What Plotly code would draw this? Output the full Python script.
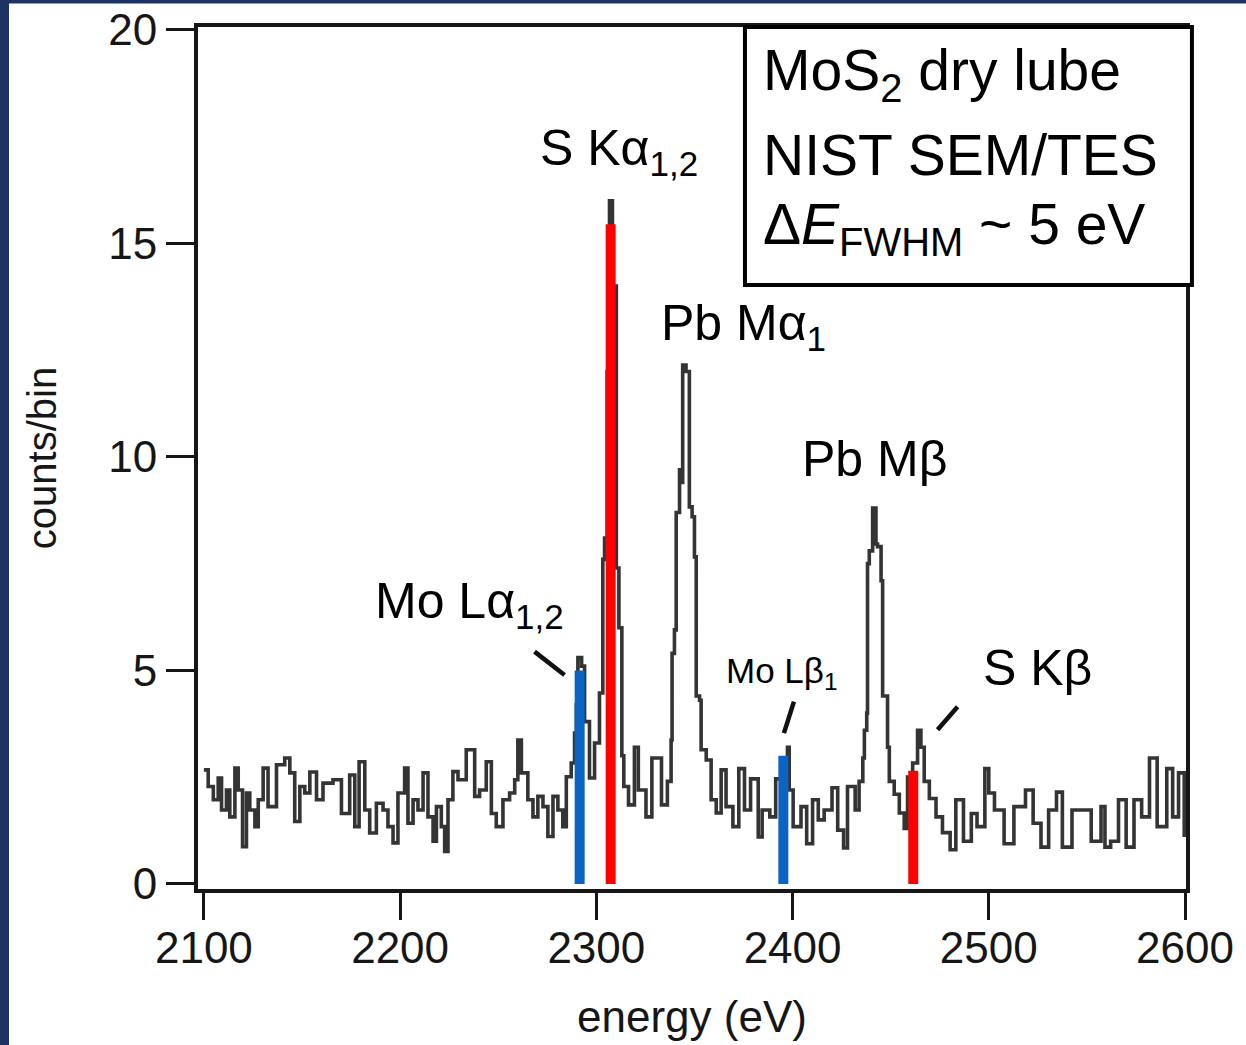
import plotly.graph_objects as go

# ---------------- data ----------------
energy_eV = [
    2100.0, 2102.2, 2104.8, 2107.3, 2109.0, 2111.5, 2113.2, 2115.8, 2117.5, 2119.7,
    2121.7, 2123.4, 2126.0, 2127.7, 2130.2, 2132.7, 2137.0, 2141.2, 2143.8, 2146.3,
    2148.9, 2151.4, 2154.0, 2157.4, 2160.7, 2165.8, 2170.1, 2174.3, 2176.9, 2179.1,
    2182.0, 2184.5, 2187.9, 2191.3, 2193.8, 2196.4, 2198.9, 2202.3, 2204.0, 2206.6,
    2209.1, 2211.7, 2214.2, 2216.8, 2218.5, 2221.0, 2222.7, 2224.4, 2226.9, 2229.5,
    2233.7, 2236.3, 2238.0, 2240.5, 2243.9, 2246.5, 2249.0, 2252.4, 2255.8, 2258.4,
    2260.0, 2261.8, 2265.1, 2267.7, 2270.2, 2272.8, 2275.3, 2277.9, 2280.4, 2282.9,
    2284.7, 2287.2, 2288.9, 2289.8, 2290.6, 2292.5, 2294.0, 2296.5, 2299.1, 2301.6,
    2303.3, 2304.2, 2305.5, 2306.7, 2308.2, 2310.2, 2311.5, 2313.0, 2314.0, 2316.4,
    2319.4, 2321.4, 2325.3, 2328.3, 2333.2, 2336.2, 2338.1, 2338.6, 2339.8, 2340.7,
    2342.4, 2343.2, 2344.0, 2345.7, 2347.4, 2348.8, 2350.0, 2350.9, 2352.6, 2353.4,
    2356.0, 2358.5, 2361.1, 2363.6, 2366.1, 2369.6, 2372.6, 2375.5, 2378.6, 2382.5,
    2384.5, 2388.4, 2391.4, 2394.5, 2397.4, 2398.3, 2400.3, 2404.3, 2407.2, 2410.2,
    2413.1, 2416.1, 2420.1, 2423.0, 2426.0, 2428.0, 2431.9, 2433.9, 2435.8, 2436.6,
    2437.8, 2438.2, 2439.1, 2440.8, 2442.5, 2443.3, 2445.1, 2445.9, 2448.4, 2449.3,
    2451.8, 2454.4, 2456.9, 2458.6, 2461.2, 2463.7, 2465.4, 2467.1, 2469.7, 2473.1,
    2476.4, 2480.3, 2483.2, 2487.1, 2491.1, 2494.0, 2498.0, 2500.0, 2502.9, 2507.8,
    2512.8, 2518.7, 2522.6, 2526.6, 2530.5, 2534.5, 2537.5, 2542.4, 2548.3, 2552.2,
    2557.2, 2559.2, 2562.1, 2566.1, 2570.0, 2574.0, 2577.9, 2581.9, 2585.8, 2590.7,
    2593.7, 2596.7, 2599.6,
]
counts_per_bin = [
    2.67, 2.28, 1.97, 2.48, 1.73, 2.20, 1.57, 2.71, 2.20, 0.87,
    2.13, 1.73, 1.34, 1.97, 2.71, 1.81, 2.79, 2.95, 2.60, 1.46,
    2.28, 2.13, 2.62, 1.97, 2.36, 2.44, 1.65, 2.55, 1.34, 2.86,
    1.73, 1.19, 1.89, 1.73, 1.34, 0.96, 2.13, 2.71, 1.42, 1.97,
    1.73, 2.60, 1.57, 1.00, 1.81, 1.34, 0.76, 1.97, 2.63, 2.44,
    3.14, 3.14, 2.05, 2.20, 2.86, 1.65, 1.34, 1.97, 2.13, 2.44,
    3.37, 2.60, 1.97, 1.57, 2.05, 1.81, 1.11, 2.05, 1.73, 1.34,
    2.51, 2.83, 3.53, 4.20, 5.30, 5.10, 3.80, 2.48, 3.30, 4.47,
    7.60, 8.10, 12.0, 16.0, 14.0, 7.40, 6.00, 3.00, 2.28, 1.85,
    3.20, 2.20, 1.57, 2.95, 1.85, 2.40, 3.37, 5.40, 5.95, 8.70,
    9.70, 9.40, 12.15, 12.0, 8.83, 8.60, 7.66, 4.40, 4.30, 3.14,
    2.90, 1.97, 1.66, 2.67, 1.81, 1.34, 2.70, 1.73, 2.46, 1.10,
    1.73, 1.57, 2.46, 2.80, 3.20, 2.20, 1.34, 1.81, 0.94, 1.97,
    1.50, 1.73, 2.25, 1.26, 0.84, 2.28, 1.73, 2.40, 2.95, 3.60,
    4.00, 7.50, 7.80, 8.80, 7.96, 7.90, 7.10, 4.40, 3.20, 2.40,
    2.10, 1.66, 1.30, 2.50, 2.83, 3.60, 3.20, 2.40, 2.00, 1.57,
    1.20, 0.80, 1.97, 1.00, 1.65, 1.34, 2.70, 2.13, 1.73, 0.94,
    1.81, 2.20, 1.42, 0.86, 1.73, 2.15, 0.86, 1.73, 1.73, 1.00,
    1.81, 0.86, 1.00, 1.97, 0.86, 1.97, 1.57, 2.95, 1.34, 2.70,
    1.57, 2.60, 1.10,
]

# reference emission lines (position, height, colour)
line_energy = [2291.5, 2307.3, 2395.3, 2461.5]
line_height = [5.0, 15.45, 3.0, 2.65]
line_color = ["#0a64c8", "#ff0000", "#0a64c8", "#ff0000"]

# peak labels
label_text = ["S K&#945;<sub>1,2</sub>", "Pb M&#945;<sub>1</sub>", "Pb M&#946;",
              "Mo L&#945;<sub>1,2</sub>", "Mo L&#946;<sub>1</sub>", "S K&#946;"]
label_energy = [2311.5, 2375.0, 2441.6, 2235.4, 2394.8, 2524.6]
label_counts = [17.15, 13.05, 9.95, 6.55, 4.95, 5.05]
label_size = [50, 50, 50, 50, 35, 50]

# leader lines (energy0, counts0, energy1, counts1)
leader_e0 = [2268.5, 2400.7, 2484.1]
leader_c0 = [5.44, 4.27, 4.15]
leader_e1 = [2283.8, 2395.6, 2473.9]
leader_c1 = [4.89, 3.53, 3.61]

x_ticks = [2100, 2200, 2300, 2400, 2500, 2600]
y_ticks = [0, 5, 10, 15, 20]

box_lines = ["MoS<sub>2</sub> dry lube", "NIST SEM/TES",
             "&#916;<i>E</i><sub>FWHM</sub> ~ 5 eV"]

# ---------------- figure ----------------
FONT = "Liberation Sans, Arial, sans-serif"
INK = "#161616"

fig = go.Figure()

fig.add_trace(go.Scatter(
    x=energy_eV, y=counts_per_bin, mode="lines",
    line=dict(color="#343434", width=3.6, shape="hv"),
    showlegend=False, hoverinfo="skip",
))

for e, h, c in zip(line_energy, line_height, line_color):
    fig.add_trace(go.Scatter(
        x=[e, e], y=[0, h], mode="lines",
        line=dict(color=c, width=10),
        showlegend=False, hoverinfo="skip",
    ))

for t, e, c, s in zip(label_text, label_energy, label_counts, label_size):
    fig.add_annotation(x=e, y=c, xref="x", yref="y", text=t, showarrow=False,
                       xanchor="center", yanchor="middle",
                       font=dict(family=FONT, size=s, color="black"))

for e0, c0, e1, c1 in zip(leader_e0, leader_c0, leader_e1, leader_c1):
    fig.add_shape(type="line", xref="x", yref="y", x0=e0, y0=c0, x1=e1, y1=c1,
                  line=dict(color="#111111", width=4.5))

# info box
fig.add_shape(type="rect", xref="paper", yref="paper",
              x0=0.5536, y0=0.7007, x1=1.006, y1=1.0,
              line=dict(color="black", width=4), fillcolor="white")
box_y = [0.9455, 0.851, 0.7674]
for t, yy in zip(box_lines, box_y):
    fig.add_annotation(x=0.5699, y=yy, xref="paper", yref="paper", text=t,
                       showarrow=False, xanchor="left", yanchor="middle",
                       font=dict(family=FONT, size=57, color="black"))

# navy slide border strips (left and top edges)
fig.add_shape(type="rect", xref="paper", yref="paper",
              x0=-0.21, x1=-0.1913, y0=-0.2, y1=1.04,
              line=dict(width=0), fillcolor="#1e3364", layer="above")
fig.add_shape(type="rect", xref="paper", yref="paper",
              x0=-0.21, x1=1.07, y0=1.0273, y1=1.04,
              line=dict(width=0), fillcolor="#1e3364", layer="above")

fig.update_xaxes(
    range=[2097, 2600.5], tickvals=x_ticks, ticktext=[str(v) for v in x_ticks],
    ticks="outside", ticklen=27, tickwidth=3, tickcolor=INK,
    ticklabelstandoff=-10,
    showline=True, linewidth=3.5, linecolor=INK, mirror=True,
    showgrid=False, zeroline=False, automargin=False,
    tickfont=dict(family=FONT, size=44, color=INK),
    title=dict(text="energy (eV)", font=dict(family=FONT, size=44, color=INK), standoff=32),
)
fig.update_yaxes(
    range=[-0.12, 20.07], tickvals=y_ticks, ticktext=[str(v) for v in y_ticks],
    ticks="outside", ticklen=28, tickwidth=3, tickcolor=INK,
    showline=True, linewidth=4, linecolor=INK, mirror=True,
    showgrid=False, zeroline=False, automargin=False,
    tickfont=dict(family=FONT, size=44, color=INK),
    title=dict(text="counts/bin", font=dict(family=FONT, size=40, color=INK), standoff=40),
)

fig.update_layout(
    width=1246, height=1045,
    margin=dict(l=198, r=60, t=27, b=156, autoexpand=False),
    paper_bgcolor="white", plot_bgcolor="white",
    font=dict(family=FONT, color=INK),
)

fig.write_html(
    "out.html",
    config={"displayModeBar": False},
    post_script="document.body.style.margin='0';document.body.style.overflow='hidden';",
)
